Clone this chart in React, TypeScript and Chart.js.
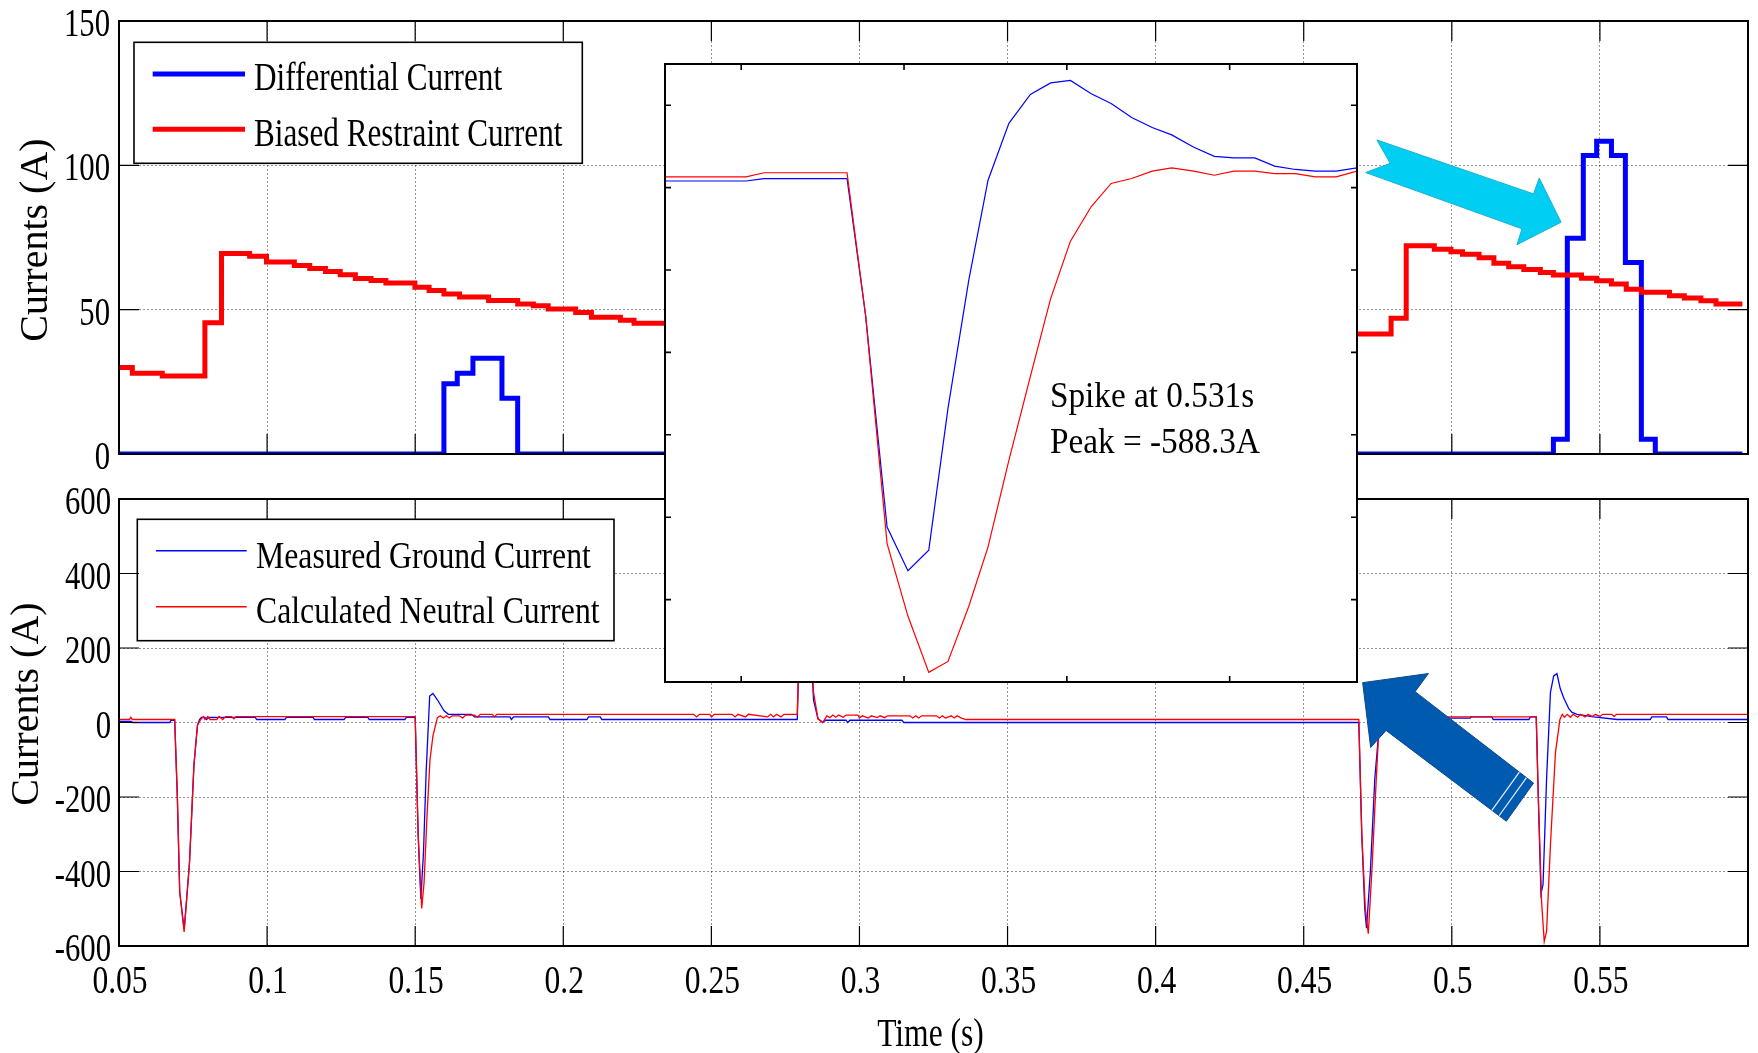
import React, { useEffect, useRef } from "react";
import { Chart, registerables } from "chart.js";

Chart.register(...registerables);

const W = 1758;
const H = 1053;

// ---------------- Top panel: differential / biased restraint (A) ----------------
const diffTime = [0.05, 0.1597, 0.1642, 0.1695, 0.1793, 0.1846, 0.5343, 0.539, 0.5444, 0.5489, 0.5539, 0.5586, 0.564, 0.5687, 0.5981];
const diffCurrent = [0, 24.3, 28.0, 33.2, 19.3, 0, 5.1, 74.7, 103.4, 108.3, 103.4, 66.3, 5.1, 0, 0];

const restraintTime = [
  0.05, 0.0545, 0.0646, 0.079, 0.0846, 0.0941, 0.0998, 0.1092, 0.1144, 0.1197, 0.1247, 0.1298, 0.1351,
  0.1401, 0.1499, 0.1547, 0.1597, 0.165, 0.1748, 0.1846, 0.1899, 0.1949, 0.2042, 0.2095, 0.2193, 0.2239,
  0.466, 0.4795, 0.4846, 0.4941, 0.4997, 0.5036, 0.5092, 0.5142, 0.5192, 0.5243, 0.5299, 0.5343, 0.5438,
  0.5489, 0.5539, 0.5589, 0.564, 0.5735, 0.5785, 0.5841, 0.5892, 0.5981,
];
const restraintCurrent = [
  30, 28, 27, 45.5, 69.5, 68.5, 66.5, 65.3, 64.3, 63.2, 62.1, 60.8, 60.1,
  59.2, 57.8, 56.6, 55.4, 54.4, 53.2, 52.0, 51.4, 50.2, 49.0, 47.4, 46.3, 45.3,
  41.6, 47.0, 72.1, 70.9, 70.1, 69.2, 68.0, 66.1, 64.9, 63.9, 62.9, 62.0, 60.9,
  60.0, 58.9, 57.1, 56.0, 54.8, 54.0, 53.1, 52.0, 52.0,
];

// ---------------- Bottom panel: ground / neutral current (A) ----------------
const groundTime = [
  0.05, 0.0542, 0.0545, 0.0672, 0.0675, 0.0688, 0.0697, 0.0705, 0.072, 0.0738, 0.0753, 0.0765, 0.0772,
  0.0778, 0.079, 0.0795, 0.0805, 0.096, 0.0965, 0.106, 0.1065, 0.1155, 0.116, 0.126, 0.1265, 0.134,
  0.1345, 0.1465, 0.147, 0.15, 0.151, 0.1519, 0.1528, 0.1537, 0.1549, 0.156, 0.1575, 0.1597, 0.1612,
  0.169, 0.17, 0.182, 0.1825, 0.1832, 0.195, 0.1955, 0.208, 0.2085, 0.2125, 0.213, 0.279, 0.28, 0.2815,
  0.283, 0.2845, 0.286, 0.2876, 0.2885, 0.2955, 0.296, 0.2968, 0.3143, 0.315, 0.4686, 0.4696, 0.4706,
  0.4712, 0.4725, 0.474, 0.4755, 0.4765, 0.478, 0.5062, 0.5065, 0.5135, 0.514, 0.526, 0.5265, 0.5285,
  0.5292, 0.5301, 0.5308, 0.532, 0.5333, 0.5344, 0.5355, 0.5366, 0.5378, 0.5395, 0.5406, 0.5423, 0.548,
  0.5558, 0.567, 0.5675, 0.5725, 0.573, 0.6,
];
const groundCurrent = [
  3, 3, 0, 0, 6, 6, -200, -455, -555, -377, -114, -7, 8,
  14, 14, 8, 14, 14, 8, 8, 14, 14, 8, 8, 14, 14,
  8, 8, 14, 14, -300, -474, -350, -133, 71, 78, 61, 32, 22,
  22, 15, 15, 8, 15, 15, 8, 8, 15, 15, 8, 8, 300, 550,
  300, 60, 10, 0, 6, 6, 0, 6, 6, 0, 0, -300, -500,
  -552, -400, -150, -10, 10, 12, 12, 15, 15, 8, 8, 15, 15,
  -200, -460, -435, -150, 81, 125, 131, 91, 66, 37, 27, 22, 15,
  8, 8, 15, 15, 8, 8,
];

const neutralTime = [
  0.05, 0.0535, 0.054, 0.0545, 0.0688, 0.0697, 0.0705, 0.072, 0.0738, 0.0753, 0.0765, 0.0776, 0.0785,
  0.079, 0.08, 0.0808, 0.083, 0.0838, 0.085, 0.086, 0.088, 0.0888, 0.0895, 0.15, 0.151, 0.1522, 0.153,
  0.154, 0.155, 0.156, 0.1575, 0.1585, 0.1595, 0.1605, 0.1615, 0.1625, 0.165, 0.166, 0.167, 0.17, 0.171,
  0.172, 0.176, 0.1768, 0.1775, 0.244, 0.245, 0.246, 0.2495, 0.25, 0.251, 0.257, 0.258, 0.259, 0.2615,
  0.2625, 0.269, 0.27, 0.271, 0.272, 0.2735, 0.2745, 0.279, 0.28, 0.2815, 0.283, 0.2845, 0.286, 0.2876,
  0.289, 0.29, 0.291, 0.292, 0.293, 0.2945, 0.2955, 0.2995, 0.3, 0.301, 0.303, 0.304, 0.306, 0.307,
  0.3085, 0.3095, 0.317, 0.318, 0.319, 0.32, 0.321, 0.326, 0.327, 0.328, 0.329, 0.331, 0.332, 0.333,
  0.3345, 0.3359, 0.4686, 0.4696, 0.4708, 0.4718, 0.473, 0.4745, 0.4755, 0.477, 0.5285, 0.5292, 0.5303,
  0.5312, 0.532, 0.5333, 0.535, 0.5365, 0.5373, 0.538, 0.539, 0.54, 0.541, 0.5425, 0.5435, 0.545, 0.546,
  0.5475, 0.5485, 0.55, 0.551, 0.554, 0.5548, 0.5556, 0.6,
];
const neutralCurrent = [
  8, 8, 14, 8, 8, -200, -455, -562, -377, -114, -7, 8, 16,
  8, 16, 8, 8, 16, 8, 16, 16, 10, 16, 16, -300, -499, -430,
  -250, -100, -36, 13, 18, 12, 18, 12, 18, 18, 12, 20, 20, 14,
  22, 22, 15, 22, 22, 15, 22, 22, 15, 22, 22, 15, 22, 15,
  22, 15, 22, 15, 22, 15, 22, 22, 300, 560, 320, 80, 10, 0,
  18, 13, 20, 14, 20, 14, 20, 20, 12, 18, 12, 18, 13, 18,
  13, 18, 18, 12, 18, 12, 18, 18, 12, 18, 12, 18, 12, 18,
  12, 8, 8, -300, -500, -567, -400, -150, 0, 15, 15, -200, -480,
  -588, -560, -328, -80, 8, 22, 14, 22, 14, 22, 14, 22, 15, 22,
  16, 22, 16, 22, 22, 16, 22, 22,
];

// ---------------- Inset: zoom on the spike at 0.531 s ----------------
const insetTime = [
  0.52266, 0.52515, 0.5257, 0.52825, 0.52882, 0.52948, 0.53012, 0.53076, 0.53135, 0.53199, 0.53258,
  0.53322, 0.53388, 0.5345, 0.53511, 0.53575, 0.53636, 0.53699, 0.53762, 0.53822, 0.5389, 0.53953,
  0.54013, 0.54077, 0.54138, 0.54202, 0.54263, 0.54327, 0.54391,
];
const insetGround = [8, 8, 11, 11, -155, -412, -465, -440, -268, -112, 9, 78, 113, 127, 130, 114, 102, 85, 73, 64, 49, 38, 36, 36, 26, 22, 20, 20, 24];
const insetNeutral = [13, 13, 18, 18, -155, -432, -520, -588.3, -575, -508, -436, -331, -229, -135, -65, -23, 5, 11, 20, 24, 20, 15, 20, 20, 17, 17, 13, 13, 20];

// ---------------- Ticks and text ----------------
const xTickLabels = ["0.05", "0.1", "0.15", "0.2", "0.25", "0.3", "0.35", "0.4", "0.45", "0.5", "0.55"];
const topYTickLabels = ["0", "50", "100", "150"];
const bottomYTickLabels = ["-600", "-400", "-200", "0", "200", "400", "600"];
const insetXTicks = [0.525, 0.53, 0.535, 0.54];
const insetYTicks = [100, 0, -100, -200, -300, -400, -500];

const topLegendLabels = ["Differential Current", "Biased Restraint Current"];
const bottomLegendLabels = ["Measured Ground Current", "Calculated Neutral Current"];
const insetNote = ["Spike at 0.531s", "Peak = -588.3A"];
const yTitle = "Currents (A)";
const xTitle = "Time (s)";

// Annotation arrows, in data units (time s, current A) of their panel
const cyanArrow = [
  [0.4747, 108.8], [0.5276, 90.1], [0.5295, 95.6], [0.5369, 80.3],
  [0.522, 72.5], [0.5237, 78.0], [0.4709, 97.5], [0.4792, 100.7],
];
const blueArrow = [
  [0.4699, 107], [0.4921, 131.5], [0.4876, 82.8], [0.5276, -162.7],
  [0.5184, -265], [0.4778, -21.4], [0.4726, -67.2],
];

const SERIF = '"Liberation Serif", "Times New Roman", serif';
const BLUE = "#0000FF";
const RED = "#FF0000";

function pts(xs: number[], ys: number[]) {
  return xs.map((x, i) => ({ x, y: ys[i] }));
}

function squeezeText(ctx: any, text: string, x: number, y: number, size: number, sx: number, align: string) {
  ctx.save();
  ctx.font = `${size}px ${SERIF}`;
  ctx.textBaseline = "alphabetic";
  ctx.textAlign = "left";
  const w = ctx.measureText(text).width * sx;
  const x0 = align === "left" ? x : align === "center" ? x - w / 2 : x - w;
  ctx.translate(x0, y);
  ctx.scale(sx, 1);
  ctx.fillStyle = "#000";
  ctx.fillText(text, 0, 0);
  ctx.restore();
}

function rotatedTitle(ctx: any, text: string, x: number, y: number, size: number) {
  ctx.save();
  ctx.translate(x, y);
  ctx.rotate(-Math.PI / 2);
  ctx.font = `${size}px ${SERIF}`;
  ctx.textAlign = "center";
  ctx.textBaseline = "alphabetic";
  ctx.fillStyle = "#000";
  ctx.fillText(text, 0, 0);
  ctx.restore();
}

function frameAndTicks(ctx: any, a: any, xs: number[], ys: number[], len: number, tickW: number, frameW: number) {
  ctx.save();
  ctx.strokeStyle = "#000";
  ctx.lineWidth = tickW;
  ctx.beginPath();
  xs.forEach((px) => {
    ctx.moveTo(px, a.bottom);
    ctx.lineTo(px, a.bottom - len);
    ctx.moveTo(px, a.top);
    ctx.lineTo(px, a.top + len);
  });
  ys.forEach((py) => {
    ctx.moveTo(a.left, py);
    ctx.lineTo(a.left + len, py);
    ctx.moveTo(a.right, py);
    ctx.lineTo(a.right - len, py);
  });
  ctx.stroke();
  ctx.lineWidth = frameW;
  ctx.strokeRect(a.left, a.top, a.right - a.left, a.bottom - a.top);
  ctx.restore();
}

function legendBox(ctx: any, box: number[], rows: any[], lx0: number, lx1: number, tx: number, size: number, sx: number) {
  ctx.save();
  ctx.fillStyle = "#fff";
  ctx.fillRect(box[0], box[1], box[2], box[3]);
  ctx.strokeStyle = "#000";
  ctx.lineWidth = 1.6;
  ctx.strokeRect(box[0], box[1], box[2], box[3]);
  rows.forEach((r) => {
    ctx.beginPath();
    ctx.strokeStyle = r.color;
    ctx.lineWidth = r.width;
    ctx.moveTo(lx0, r.lineY);
    ctx.lineTo(lx1, r.lineY);
    ctx.stroke();
    squeezeText(ctx, r.label, tx, r.baseY, size, sx, "left");
  });
  ctx.restore();
}

function polygonPx(chart: any, list: number[][]) {
  const xs = chart.scales.x;
  const ys = chart.scales.y;
  return list.map(([t, v]) => [xs.getPixelForValue(t), ys.getPixelForValue(v)]);
}

function drawPolygon(ctx: any, p: number[][], fill: string, stroke: string) {
  ctx.save();
  ctx.beginPath();
  p.forEach(([x, y], i) => (i ? ctx.lineTo(x, y) : ctx.moveTo(x, y)));
  ctx.closePath();
  ctx.fillStyle = fill;
  ctx.fill();
  ctx.strokeStyle = stroke;
  ctx.lineWidth = 1;
  ctx.stroke();
  ctx.restore();
}

function gridAxis(min: number, max: number, step: number, showGrid: boolean) {
  return {
    type: "linear",
    min,
    max,
    ticks: { display: false, stepSize: step },
    grid: { display: showGrid, drawTicks: false, color: "rgba(0,0,0,0.42)", lineWidth: 1 },
    border: { display: false, dash: [2, 2] },
  };
}

function lineDataset(label: string, data: any[], color: string, width: number, stepped: any, order: number) {
  return {
    label,
    data,
    borderColor: color,
    backgroundColor: color,
    borderWidth: width,
    pointRadius: 0,
    tension: 0,
    stepped,
    fill: false,
    order,
    borderJoinStyle: "miter",
    borderCapStyle: "butt",
  };
}

const commonOptions = (padding: any, xAxis: any, yAxis: any) => ({
  responsive: false,
  animation: false,
  devicePixelRatio: 1,
  events: [],
  layout: { padding },
  plugins: { legend: { display: false }, tooltip: { enabled: false }, title: { display: false } },
  scales: { x: xAxis, y: yAxis },
});

const topDecor = {
  id: "topDecor",
  afterDraw(chart: any) {
    const ctx = chart.ctx;
    const a = chart.chartArea;
    const xs = chart.scales.x;
    const ys = chart.scales.y;
    const ds = chart.data.datasets;
    legendBox(
      ctx,
      [134, 42.3, 448.3, 121],
      [
        { color: ds[0].borderColor, width: 5, lineY: 74, baseY: 90, label: topLegendLabels[0] },
        { color: ds[1].borderColor, width: 5, lineY: 129.3, baseY: 145.7, label: topLegendLabels[1] },
      ],
      152.7, 245, 254, 39, 0.8
    );
    const xp = xTickLabels.map((l) => xs.getPixelForValue(parseFloat(l)));
    const yp = topYTickLabels.map((l) => ys.getPixelForValue(parseFloat(l)));
    frameAndTicks(ctx, a, xp, yp, 20, 1.2, 2);
    topYTickLabels.forEach((l, i) => squeezeText(ctx, l, a.left - 9, yp[i] + 15, 41, 0.75, "right"));
    rotatedTitle(ctx, yTitle, 46.7, 240, 40);
    drawPolygon(ctx, polygonPx(chart, cyanArrow), "#00CFF3", "#1AAFD3");
  },
};

const bottomDecor = {
  id: "bottomDecor",
  afterDraw(chart: any) {
    const ctx = chart.ctx;
    const a = chart.chartArea;
    const xs = chart.scales.x;
    const ys = chart.scales.y;
    const ds = chart.data.datasets;
    legendBox(
      ctx,
      [137.3, 519.3, 476.7, 121.4],
      [
        { color: ds[0].borderColor, width: 1.5, lineY: 550.7, baseY: 568.3, label: bottomLegendLabels[0] },
        { color: ds[1].borderColor, width: 1.5, lineY: 606.7, baseY: 623.3, label: bottomLegendLabels[1] },
      ],
      156, 246.7, 256, 38, 0.835
    );
    const xp = xTickLabels.map((l) => xs.getPixelForValue(parseFloat(l)));
    const yp = bottomYTickLabels.map((l) => ys.getPixelForValue(parseFloat(l)));
    frameAndTicks(ctx, a, xp, yp, 20, 1.2, 2);
    bottomYTickLabels.forEach((l, i) => squeezeText(ctx, l, a.left - 8, yp[i] + 15, 41, 0.75, "right"));
    xTickLabels.forEach((l, i) => squeezeText(ctx, l, xp[i] + 1, a.bottom + 47, 41, 0.77, "center"));
    squeezeText(ctx, xTitle, (a.left + a.right) / 2 - 3, 1046, 41, 0.77, "center");
    rotatedTitle(ctx, yTitle, 38, 704, 40);
    const p = polygonPx(chart, blueArrow);
    drawPolygon(ctx, p, "#005BB0", "#0A4A8C");
    // white stripes near the tail
    ctx.save();
    ctx.strokeStyle = "rgba(255,255,255,0.9)";
    ctx.lineWidth = 1.2;
    [0.88, 0.94].forEach((f) => {
      const ax = p[2][0] + (p[3][0] - p[2][0]) * f;
      const ay = p[2][1] + (p[3][1] - p[2][1]) * f;
      const bx = p[5][0] + (p[4][0] - p[5][0]) * f;
      const by = p[5][1] + (p[4][1] - p[5][1]) * f;
      ctx.beginPath();
      ctx.moveTo(ax, ay);
      ctx.lineTo(bx, by);
      ctx.stroke();
    });
    ctx.restore();
  },
};

const insetDecor = {
  id: "insetDecor",
  beforeDraw(chart: any) {
    const ctx = chart.ctx;
    const a = chart.chartArea;
    ctx.save();
    ctx.fillStyle = "#fff";
    ctx.fillRect(a.left, a.top, a.right - a.left, a.bottom - a.top);
    ctx.restore();
  },
  afterDraw(chart: any) {
    const ctx = chart.ctx;
    const a = chart.chartArea;
    const xs = chart.scales.x;
    const ys = chart.scales.y;
    const xp = insetXTicks.map((v) => xs.getPixelForValue(v));
    const yp = insetYTicks.map((v) => ys.getPixelForValue(v));
    frameAndTicks(ctx, a, xp, yp, 6, 1.6, 2);
    squeezeText(ctx, insetNote[0], 1050, 406.7, 35, 0.95, "left");
    squeezeText(ctx, insetNote[1], 1050, 453.3, 35, 0.95, "left");
  },
};

export default function App() {
  const topRef = useRef<HTMLCanvasElement>(null);
  const botRef = useRef<HTMLCanvasElement>(null);
  const insRef = useRef<HTMLCanvasElement>(null);

  useEffect(() => {
    const charts: Chart[] = [];
    charts.push(
      new Chart(topRef.current as HTMLCanvasElement, {
        type: "line",
        data: {
          datasets: [
            lineDataset(topLegendLabels[0], pts(diffTime, diffCurrent), BLUE, 5, "before", 1),
            lineDataset(topLegendLabels[1], pts(restraintTime, restraintCurrent), RED, 5, "before", 0),
          ],
        } as any,
        options: commonOptions({ left: 119, top: 21, right: 10, bottom: H - 454 }, gridAxis(0.05, 0.6, 0.05, true), gridAxis(0, 150, 50, true)) as any,
        plugins: [topDecor],
      })
    );
    charts.push(
      new Chart(botRef.current as HTMLCanvasElement, {
        type: "line",
        data: {
          datasets: [
            lineDataset(bottomLegendLabels[0], pts(groundTime, groundCurrent), BLUE, 1.3, false, 1),
            lineDataset(bottomLegendLabels[1], pts(neutralTime, neutralCurrent), RED, 1.3, false, 0),
          ],
        } as any,
        options: commonOptions({ left: 119, top: 499, right: 10, bottom: H - 946 }, gridAxis(0.05, 0.6, 0.05, true), gridAxis(-600, 600, 200, true)) as any,
        plugins: [bottomDecor],
      })
    );
    charts.push(
      new Chart(insRef.current as HTMLCanvasElement, {
        type: "line",
        data: {
          datasets: [
            lineDataset(bottomLegendLabels[0], pts(insetTime, insetGround), BLUE, 1.2, false, 1),
            lineDataset(bottomLegendLabels[1], pts(insetTime, insetNeutral), RED, 1.2, false, 0),
          ],
        } as any,
        options: commonOptions({ left: 665, top: 64, right: W - 1357, bottom: H - 682 }, gridAxis(0.52266, 0.54391, 0.005, false), gridAxis(-600, 150, 100, false)) as any,
        plugins: [insetDecor],
      })
    );
    return () => charts.forEach((c) => c.destroy());
  }, []);

  const cs: any = { position: "absolute", left: 0, top: 0, width: W, height: H };
  return (
    <div style={{ position: "absolute", left: 0, top: 0, width: W, height: H, background: "#fff", overflow: "hidden" }}>
      <canvas ref={topRef} width={W} height={H} style={cs} />
      <canvas ref={botRef} width={W} height={H} style={cs} />
      <canvas ref={insRef} width={W} height={H} style={cs} />
    </div>
  );
}
